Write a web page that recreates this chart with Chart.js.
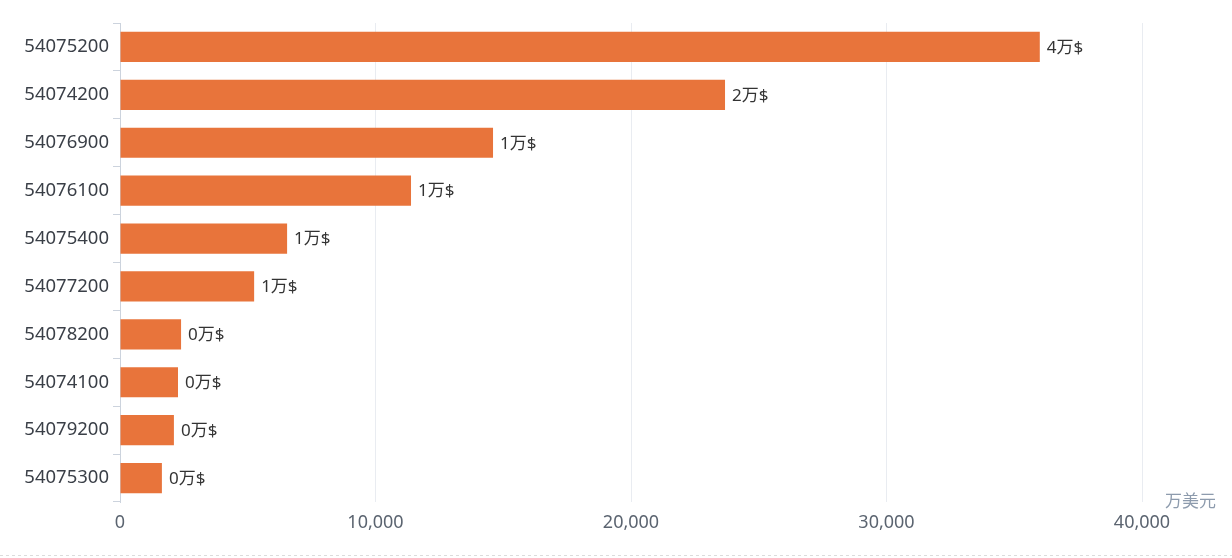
<!DOCTYPE html>
<html lang="zh">
  <head>
    <meta charset="UTF-8" />
    <title>Chart</title>
    <script src="https://cdn.jsdelivr.net/npm/chart.js"></script>
    <style>
      html, body { margin: 0; padding: 0; background: #fff; }
      #wrap { width: 1232px; height: 558px; }
    </style>
  </head>
  <body>
    <div id="wrap"><canvas id="barChart"></canvas></div>
    <script>
      // 数据
      var codes = ["54075200", "54074200", "54076900", "54076100", "54075400",
                   "54077200", "54078200", "54074100", "54079200", "54075300"];
      var amounts = [36000, 23680, 14600, 11390, 6540, 5250, 2390, 2270, 2110, 1640];
      var xTicks = [0, 10000, 20000, 30000, 40000];
      var unitName = "万美元";

      var FONT = "'Noto Sans', 'Noto Sans CJK SC', sans-serif";

      // 柱子右侧的数值标签 + 单位 + 底部虚线
      var extras = {
        id: "extras",
        afterDatasetsDraw: function (chart) {
          var ctx = chart.ctx;
          var meta = chart.getDatasetMeta(0);
          ctx.save();
          ctx.font = "17px " + FONT;
          ctx.fillStyle = "#333";
          ctx.textBaseline = "middle";
          ctx.textAlign = "left";
          meta.data.forEach(function (bar, i) {
            var txt = Math.round(amounts[i] / 10000) + "万$";
            ctx.fillText(txt, bar.x + 7, bar.y + 1);
          });
          ctx.restore();
        },
        afterDraw: function (chart) {
          var ctx = chart.ctx;
          var area = chart.chartArea;
          ctx.save();
          ctx.font = "17px " + FONT;
          ctx.fillStyle = "#8d9bad";
          ctx.textAlign = "left";
          ctx.textBaseline = "middle";
          ctx.fillText(unitName, area.right + 23, area.bottom);
          ctx.strokeStyle = "#dcdcdc";
          ctx.setLineDash([3, 3]);
          ctx.lineWidth = 1;
          ctx.beginPath();
          ctx.moveTo(0, 555.5);
          ctx.lineTo(chart.width, 555.5);
          ctx.stroke();
          ctx.restore();
        }
      };

      var ctx = document.getElementById("barChart").getContext("2d");
      var myChart = new Chart(ctx, {
        type: "bar",
        data: {
          labels: codes,
          datasets: [
            {
              label: unitName,
              data: amounts,
              backgroundColor: "#e8743b",
              barPercentage: 0.63,
              categoryPercentage: 1.0
            }
          ]
        },
        plugins: [extras],
        options: {
          indexAxis: "y",
          responsive: true,
          maintainAspectRatio: false,
          animation: false,
          layout: { padding: { top: 23, right: 90, left: 0, bottom: 0 } },
          plugins: {
            legend: { display: false },
            tooltip: { enabled: false }
          },
          scales: {
            x: {
              min: 0,
              max: 40000,
              afterBuildTicks: function (scale) {
                scale.ticks = xTicks.map(function (v) { return { value: v }; });
              },
              afterFit: function (scale) { scale.height = 56; },
              grid: {
                color: "#e9ecf1",
                drawTicks: false
              },
              border: { display: false },
              ticks: {
                padding: 10,
                color: "#5b6470",
                font: { size: 18, family: FONT },
                callback: function (v) { return v.toLocaleString("en-US"); }
              }
            },
            y: {
              afterFit: function (scale) { scale.width = 120; },
              grid: {
                offset: true,
                drawOnChartArea: false,
                drawTicks: true,
                tickLength: 7,
                color: "#ccd3dd"
              },
              border: { display: true, color: "#ccd3dd" },
              ticks: {
                padding: 4,
                color: "#3a3f47",
                font: { size: 18.5, family: FONT }
              }
            }
          }
        }
      });
    </script>
  </body>
</html>
